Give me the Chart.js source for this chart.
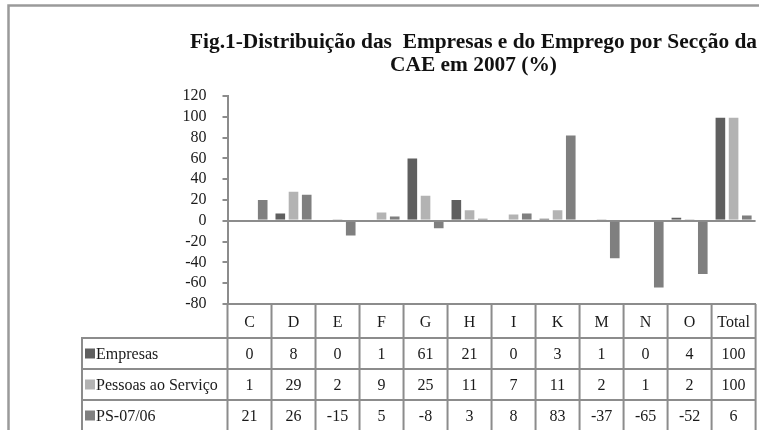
<!DOCTYPE html>
<html>
<head>
<meta charset="utf-8">
<script src="https://cdn.jsdelivr.net/npm/chart.js@4.4.1/dist/chart.umd.min.js"></script>
<style>
  html, body { margin: 0; padding: 0; background: #fff; }
  #wrap { width: 759px; height: 430px; position: relative; }
</style>
</head>
<body>
<div id="wrap"><canvas id="c"></canvas></div>
<script>
const categories = ['C', 'D', 'E', 'F', 'G', 'H', 'I', 'K', 'M', 'N', 'O', 'Total'];
const empresas = [0, 8, 0, 1, 61, 21, 0, 3, 1, 0, 4, 100];
const pessoas = [1, 29, 2, 9, 25, 11, 7, 11, 2, 1, 2, 100];
const ps0706 = [21, 26, -15, 5, -8, 3, 8, 83, -37, -65, -52, 6];
const seriesNames = ['Empresas', 'Pessoas ao Serviço', 'PS-07/06'];
const yTicks = { min: -80, max: 120, step: 20 };
const titleLines = ['Fig.1-Distribuição das  Empresas e do Emprego por Secção da', 'CAE em 2007 (%)'];

const colors = ['#5f5f5f', '#b3b3b3', '#7f7f7f'];
const lineGray = '#8c8c8c';
const FONT = 'Liberation Serif';

Chart.defaults.font.family = FONT;
Chart.defaults.color = '#1a1a1a';

const tablePlugin = {
  id: 'dataTable',
  afterLayout(chart) {
    // centre the title over the same span as the reference
    const t = chart.titleBlock;
    if (t) { t.left = 190; t.right = 757; }
  },
  beforeDraw(chart) {
    const ctx = chart.ctx;
    ctx.save();
    ctx.strokeStyle = '#9a9a9a';
    ctx.lineWidth = 2.5;
    ctx.beginPath();
    ctx.moveTo(8.5, 440);
    ctx.lineTo(8.5, 5.5);
    ctx.lineTo(770, 5.5);
    ctx.stroke();
    ctx.restore();
  },
  afterDraw(chart) {
    const ctx = chart.ctx;
    const xs = chart.scales.x;
    const area = chart.chartArea;
    const n = categories.length;
    const cw = (xs.right - xs.left) / n;
    const top = area.bottom;
    const rowTop = top + 34;
    const rowH = 31;
    const rows = [empresas, pessoas, ps0706];
    const legendLeft = 82;
    const bottom = rowTop + rowH * 3 + 1;
    ctx.save();
    ctx.strokeStyle = lineGray;
    ctx.lineWidth = 2;
    ctx.beginPath();
    for (let i = 0; i <= n; i++) {
      const x = xs.left + i * cw;
      ctx.moveTo(x, top);
      ctx.lineTo(x, bottom);
    }
    ctx.moveTo(legendLeft, rowTop);
    ctx.lineTo(legendLeft, bottom);
    for (let r = 0; r <= 3; r++) {
      const y = rowTop + r * rowH;
      ctx.moveTo(legendLeft - 1, y);
      ctx.lineTo(xs.right + 1, y);
    }
    ctx.stroke();

    ctx.font = '16px "' + FONT + '"';
    ctx.textBaseline = 'middle';
    for (let r = 0; r < 3; r++) {
      const cy = rowTop + r * rowH + rowH / 2;
      ctx.fillStyle = colors[r];
      ctx.fillRect(legendLeft + 3, cy - 5, 10, 10);
      ctx.fillStyle = '#1a1a1a';
      ctx.textAlign = 'left';
      ctx.fillText(seriesNames[r], legendLeft + 14, cy + 1);
      ctx.textAlign = 'center';
      for (let i = 0; i < n; i++) {
        const x = xs.getPixelForValue(i);
        ctx.fillText(String(rows[r][i]), x, cy + 1);
      }
    }
    ctx.restore();
  }
};

new Chart(document.getElementById('c'), {
  type: 'bar',
  data: {
    labels: categories,
    datasets: [
      { label: seriesNames[0], data: empresas, backgroundColor: colors[0] },
      { label: seriesNames[1], data: pessoas, backgroundColor: colors[1] },
      { label: seriesNames[2], data: ps0706, backgroundColor: colors[2] }
    ].map(d => Object.assign(d, {
      borderColor: 'rgba(255,255,255,0.55)',
      borderWidth: 1,
      barPercentage: 0.88,
      categoryPercentage: 0.9
    }))
  },
  options: {
    responsive: true,
    maintainAspectRatio: false,
    animation: false,
    layout: { padding: { left: 150, right: 2, top: 20, bottom: 0 } },
    plugins: {
      legend: { display: false },
      tooltip: { enabled: false },
      title: {
        display: true,
        text: titleLines,
        font: { family: FONT, size: 21.4, weight: 'bold', lineHeight: 1.08 },
        color: '#111',
        padding: { top: 10.45, bottom: 19.35 }
      }
    },
    scales: {
      x: {
        grid: { display: false, drawTicks: false },
        border: { display: true, color: lineGray, width: 2 },
        ticks: { font: { family: FONT, size: 16 }, color: '#1a1a1a', padding: 9, maxRotation: 0, autoSkip: false },
        afterFit(scale) { scale.height = 126; }
      },
      y: {
        min: yTicks.min,
        max: yTicks.max,
        ticks: { stepSize: yTicks.step, font: { family: FONT, size: 16 }, color: '#1a1a1a', padding: 16, autoSkip: false },
        grid: {
          color: c => (c.tick && c.tick.value === 0) ? lineGray : 'transparent',
          tickColor: lineGray,
          tickLength: 5,
          lineWidth: 2
        },
        border: { display: true, color: lineGray, width: 2 },
        afterFit(scale) { scale.width = 77.5; }
      }
    }
  },
  plugins: [tablePlugin]
});
</script>
</body>
</html>
